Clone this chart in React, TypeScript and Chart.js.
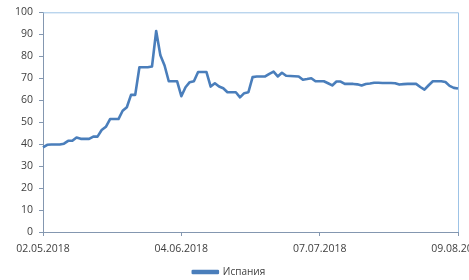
import React, { useEffect, useRef } from "react";
import { Chart, registerables } from "chart.js";

Chart.register(...registerables);

const CATEGORIES: string[] = [
  "02.05.2018","03.05.2018","04.05.2018","05.05.2018","06.05.2018","07.05.2018","08.05.2018","09.05.2018","10.05.2018","11.05.2018",
  "12.05.2018","13.05.2018","14.05.2018","15.05.2018","16.05.2018","17.05.2018","18.05.2018","19.05.2018","20.05.2018","21.05.2018",
  "22.05.2018","23.05.2018","24.05.2018","25.05.2018","26.05.2018","27.05.2018","28.05.2018","29.05.2018","30.05.2018","31.05.2018",
  "01.06.2018","02.06.2018","03.06.2018","04.06.2018","05.06.2018","06.06.2018","07.06.2018","08.06.2018","09.06.2018","10.06.2018",
  "11.06.2018","12.06.2018","13.06.2018","14.06.2018","15.06.2018","16.06.2018","17.06.2018","18.06.2018","19.06.2018","20.06.2018",
  "21.06.2018","22.06.2018","23.06.2018","24.06.2018","25.06.2018","26.06.2018","27.06.2018","28.06.2018","29.06.2018","30.06.2018",
  "01.07.2018","02.07.2018","03.07.2018","04.07.2018","05.07.2018","06.07.2018","07.07.2018","08.07.2018","09.07.2018","10.07.2018",
  "11.07.2018","12.07.2018","13.07.2018","14.07.2018","15.07.2018","16.07.2018","17.07.2018","18.07.2018","19.07.2018","20.07.2018",
  "21.07.2018","22.07.2018","23.07.2018","24.07.2018","25.07.2018","26.07.2018","27.07.2018","28.07.2018","29.07.2018","30.07.2018",
  "31.07.2018","01.08.2018","02.08.2018","03.08.2018","04.08.2018","05.08.2018","06.08.2018","07.08.2018","08.08.2018","09.08.2018",
];

const SPAIN: number[] = [
  38.5, 39.7, 39.8, 39.8, 39.8, 40.2, 41.5, 41.5, 43.0, 42.4,
  42.4, 42.4, 43.4, 43.4, 46.4, 47.9, 51.4, 51.4, 51.4, 55.2,
  56.8, 62.4, 62.4, 75.0, 75.0, 75.0, 75.3, 91.5, 80.4, 75.8,
  68.6, 68.6, 68.6, 61.8, 65.9, 68.2, 68.6, 72.8, 72.8, 72.8,
  66.2, 67.7, 66.2, 65.4, 63.6, 63.6, 63.6, 61.3, 63.2, 63.6,
  70.5, 70.8, 70.8, 70.8, 72.0, 73.0, 70.8, 72.5, 71.1, 71.0,
  70.9, 70.8, 69.3, 69.6, 70.0, 68.6, 68.6, 68.6, 67.7, 66.7,
  68.5, 68.5, 67.4, 67.4, 67.4, 67.2, 66.7, 67.4, 67.6, 67.9,
  67.9, 67.8, 67.8, 67.8, 67.7, 67.1, 67.3, 67.4, 67.4, 67.4,
  66.0, 64.8, 66.8, 68.6, 68.6, 68.6, 68.3, 66.5, 65.6, 65.3,
];

const TICK_LABELS: string[] = ["02.05.2018", "04.06.2018", "07.07.2018", "09.08.2018"];
const SERIES_NAME = "Испания";

const FONT = "'Open Sans', 'Noto Sans', sans-serif";

const plotBorder = {
  id: "plotBorder",
  beforeDatasetsDraw(chart: any) {
    const { ctx, chartArea } = chart;
    ctx.save();
    ctx.strokeStyle = "#9dc3e6";
    ctx.lineWidth = 1;
    ctx.beginPath();
    ctx.moveTo(chartArea.left, chartArea.top + 0.5);
    ctx.lineTo(chartArea.right + 0.5, chartArea.top + 0.5);
    ctx.lineTo(chartArea.right + 0.5, chartArea.bottom);
    ctx.stroke();
    ctx.restore();
  },
};

export default function App() {
  const ref = useRef<HTMLCanvasElement | null>(null);

  useEffect(() => {
    if (!ref.current) return;
    const chart = new Chart(ref.current, {
      type: "line",
      data: {
        labels: CATEGORIES,
        datasets: [
          {
            label: SERIES_NAME,
            data: SPAIN,
            borderColor: "#4a7ebb",
            backgroundColor: "#4a7ebb",
            borderWidth: 2.6,
            pointRadius: 0,
            tension: 0,
            borderJoinStyle: "round",
            fill: false,
          },
        ],
      },
      options: {
        responsive: false,
        animation: false,
        layout: { padding: { top: 12, right: 11, left: 0, bottom: -7 } },
        plugins: {
          tooltip: { enabled: false },
          legend: {
            position: "bottom",
            labels: {
              boxWidth: 25,
              boxHeight: 2,
              padding: 0,
              color: "#404040",
              font: { family: FONT, size: 10 },
            },
          },
        },
        scales: {
          x: {
            offset: false,
            grid: {
              drawOnChartArea: false,
              drawTicks: true,
              tickLength: 4,
              color: "#8497b0",
            },
            border: { color: "#8497b0", width: 1 },
            ticks: {
              autoSkip: false,
              maxRotation: 0,
              minRotation: 0,
              padding: 7,
              color: "#404040",
              font: { family: FONT, size: 10.5 },
              callback: function (_v: any, i: number) {
                const l = CATEGORIES[i];
                return TICK_LABELS.includes(l) ? l : null;
              },
            },
            afterFit(scale: any) {
              scale.paddingRight = 0;
              scale.paddingLeft = 0;
              scale.height = 35;
            },
          },
          y: {
            min: 0,
            max: 100,
            grid: {
              drawOnChartArea: false,
              drawTicks: true,
              tickLength: 4,
              color: "#8497b0",
            },
            border: { color: "#8497b0", width: 1 },
            ticks: {
              stepSize: 10,
              padding: 6,
              color: "#404040",
              font: { family: FONT, size: 10.5 },
            },
            afterFit(scale: any) {
              scale.width = 43;
            },
          },
        },
      },
      plugins: [plotBorder],
    });
    return () => chart.destroy();
  }, []);

  return (
    <div style={{ position: "fixed", left: 0, top: 0, width: 469, height: 280, background: "#fff" }}>
      <canvas ref={ref} width={469} height={280} />
    </div>
  );
}
